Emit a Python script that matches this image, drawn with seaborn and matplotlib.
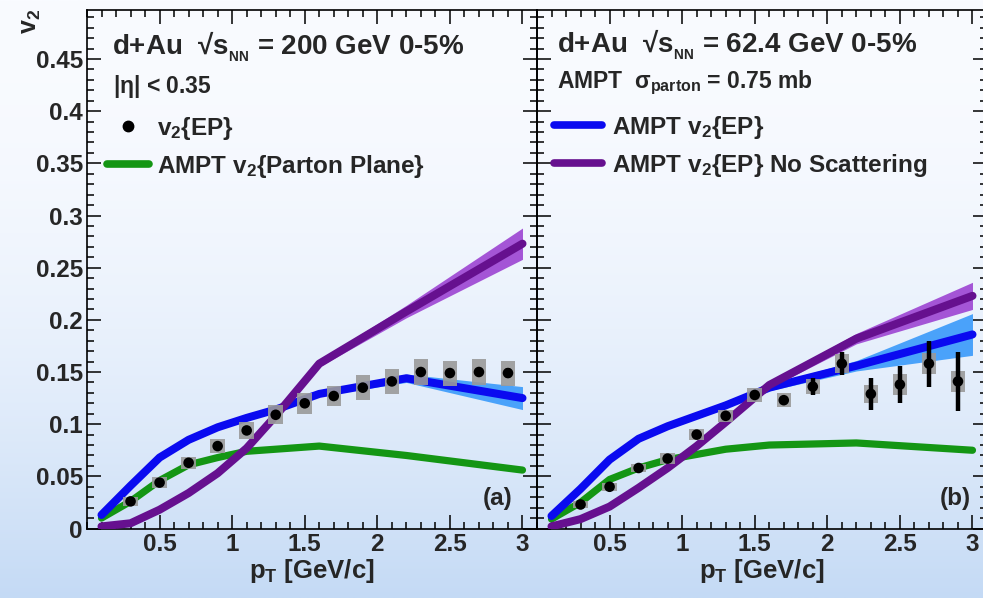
import numpy as np
import pandas as pd
import seaborn as sns
import matplotlib
matplotlib.use("Agg")
from matplotlib import pyplot as plt
from matplotlib.lines import Line2D
from matplotlib.ticker import FixedLocator, MultipleLocator, FormatStrFormatter

# measured points (STAR d+Au 0-5%)
pt_data = [0.3, 0.5, 0.7, 0.9, 1.1, 1.3, 1.5, 1.7, 1.9, 2.1, 2.3, 2.5, 2.7, 2.9]
v2_200 = [0.026, 0.044, 0.063, 0.079, 0.094, 0.109, 0.120, 0.127, 0.135, 0.141, 0.150, 0.149, 0.150, 0.149]
stat_200 = [0.001, 0.001, 0.001, 0.001, 0.001, 0.001, 0.002, 0.002, 0.002, 0.003, 0.003, 0.004, 0.004, 0.005]
sys_200 = [0.004, 0.005, 0.006, 0.007, 0.008, 0.009, 0.010, 0.010, 0.012, 0.012, 0.012, 0.012, 0.012, 0.012]
v2_62 = [0.023, 0.040, 0.058, 0.067, 0.090, 0.108, 0.128, 0.123, 0.136, 0.158, 0.129, 0.138, 0.158, 0.141]
stat_62 = [0.001, 0.001, 0.001, 0.001, 0.002, 0.002, 0.003, 0.004, 0.008, 0.011, 0.015, 0.018, 0.022, 0.028]
sys_62 = [0.003, 0.004, 0.004, 0.005, 0.005, 0.006, 0.007, 0.007, 0.007, 0.009, 0.009, 0.010, 0.010, 0.010]

# AMPT curves
pt_ampt = [0.1, 0.3, 0.5, 0.7, 0.9, 1.1, 1.3, 1.6, 2.2, 3.0]
blue_200 = [0.013, 0.041, 0.068, 0.085, 0.097, 0.106, 0.114, 0.129, 0.144, 0.125]
blue_200_err = [0.001, 0.001, 0.001, 0.001, 0.001, 0.001, 0.002, 0.002, 0.004, 0.011]
green_200 = [0.010, 0.026, 0.046, 0.061, 0.068, 0.074, 0.076, 0.079, 0.070, 0.056]
purple_200 = [0.002, 0.005, 0.018, 0.034, 0.053, 0.077, 0.108, 0.158, 0.208, 0.273]
purple_200_err = [0.001, 0.001, 0.001, 0.001, 0.002, 0.002, 0.002, 0.003, 0.006, 0.015]
blue_62 = [0.012, 0.038, 0.066, 0.086, 0.098, 0.108, 0.118, 0.135, 0.156, 0.186]
blue_62_err = [0.001, 0.001, 0.001, 0.001, 0.001, 0.001, 0.002, 0.003, 0.005, 0.020]
green_62 = [0.009, 0.025, 0.047, 0.058, 0.066, 0.071, 0.076, 0.080, 0.082, 0.075]
purple_62 = [0.002, 0.009, 0.021, 0.039, 0.058, 0.079, 0.102, 0.1375, 0.182, 0.223]
purple_62_err = [0.001, 0.001, 0.001, 0.001, 0.002, 0.002, 0.002, 0.003, 0.005, 0.013]

BLUE = "#0a0af0"
BLUE_BAND = "#4aa2fa"
PURPLE = "#66108f"
PURPLE_BAND = "#a455d6"
GREEN = "#149614"
GRAY = "#9a9a9a"

sns.set_theme(style="ticks")
plt.rcParams["font.family"] = ["Liberation Sans", "DejaVu Sans"]
plt.rcParams["font.weight"] = "bold"
plt.rcParams["mathtext.fontset"] = "custom"
plt.rcParams["mathtext.rm"] = "Liberation Sans:bold"
plt.rcParams["mathtext.it"] = "Liberation Sans:bold"
plt.rcParams["mathtext.bf"] = "Liberation Sans:bold"
plt.rcParams["mathtext.sf"] = "Liberation Sans:bold"

W, H = 983, 598
fig = plt.figure(figsize=(W / 100, H / 100), dpi=100)


def fx(px):
    return px / W


def fy(py):
    return 1 - py / H


# background gradient
bg = fig.add_axes([0, 0, 1, 1], zorder=-10)
t = np.linspace(0, 1, 300)[:, None] ** 2
top = np.array([249, 251, 255]) / 255
bot = np.array([196, 218, 245]) / 255
grad = top + (bot - top) * t[:, :, None]
bg.imshow(np.repeat(grad, 2, axis=1), aspect="auto", extent=[0, 1, 0, 1])
bg.axis("off")

y0, y1 = 528.5, 10
ax1 = fig.add_axes([fx(87), fy(y0), fx(450), (y0 - y1) / H])
ax2 = fig.add_axes([fx(537), fy(y0), fx(450), (y0 - y1) / H])


def draw_panel(ax, v2, stat, sys, blue, blue_err, green, purple, purple_err):
    df = pd.DataFrame({"pt": pt_ampt, "blue": blue, "green": green, "purple": purple})
    b, be = np.array(blue), np.array(blue_err)
    p, pe = np.array(purple), np.array(purple_err)
    ax.fill_between(pt_ampt, b - be, b + be, color=BLUE_BAND, lw=0, zorder=1)
    ax.fill_between(pt_ampt, p - pe, p + pe, color=PURPLE_BAND, lw=0, zorder=1)
    sns.lineplot(data=df, x="pt", y="green", ax=ax, color=GREEN, lw=5.2, sort=False, zorder=2)
    sns.lineplot(data=df, x="pt", y="blue", ax=ax, color=BLUE, lw=5.8, sort=False, zorder=3)
    sns.lineplot(data=df, x="pt", y="purple", ax=ax, color=PURPLE, lw=5.8, sort=False, zorder=3)
    v, s = np.array(v2), np.array(sys)
    ax.bar(pt_data, 2 * s, bottom=v - s, width=0.1, color=GRAY, alpha=0.9, lw=0, zorder=4)
    ax.errorbar(pt_data, v2, yerr=stat, fmt="none", ecolor="black", elinewidth=3.2, capsize=0, zorder=5)
    sns.scatterplot(x=pt_data, y=v2, ax=ax, color="black", s=58, edgecolor="none", zorder=6)

    ax.set_facecolor("none")
    ax.set_xlim(0, 3.1)
    ax.set_ylim(0, 0.497)
    ax.xaxis.set_major_locator(FixedLocator([0.5, 1, 1.5, 2, 2.5, 3]))
    ax.xaxis.set_major_formatter(FormatStrFormatter("%g"))
    ax.xaxis.set_minor_locator(MultipleLocator(0.1))
    ax.yaxis.set_major_locator(MultipleLocator(0.05))
    ax.yaxis.set_major_formatter(FormatStrFormatter("%g"))
    ax.yaxis.set_minor_locator(MultipleLocator(0.01))
    ax.tick_params(which="both", direction="in", top=True, right=True, color="black",
                   labelsize=17.5, width=1.1)
    ax.tick_params(which="major", length=10)
    ax.tick_params(which="minor", length=5)
    ax.tick_params(axis="x", pad=3)
    ax.tick_params(axis="y", pad=3)
    for sp in ax.spines.values():
        sp.set_color("black")
        sp.set_linewidth(1.2)
    ax.set_xlabel("p$_T$ [GeV/c]", fontsize=18.5, fontweight="bold", labelpad=1)
    ax.set_ylabel("")


draw_panel(ax1, v2_200, stat_200, sys_200, blue_200, blue_200_err, green_200, purple_200, purple_200_err)
draw_panel(ax2, v2_62, stat_62, sys_62, blue_62, blue_62_err, green_62, purple_62, purple_62_err)
ax2.tick_params(axis="y", labelleft=False)

fig.text(fx(31), fy(9), "v$_2$", rotation=90, ha="center", va="top", fontsize=18, fontweight="bold")

# panel texts
fig.text(fx(112), fy(47), r"d+Au  √$s_{_{NN}}$ = 200 GeV 0-5%", ha="left", va="center",
         fontsize=20, fontweight="bold")
fig.text(fx(113), fy(86), r"|$\eta$| < 0.35", ha="left", va="center", fontsize=16.5, fontweight="bold")
fig.text(fx(557), fy(45), r"d+Au  √$s_{_{NN}}$ = 62.4 GeV 0-5%", ha="left", va="center",
         fontsize=20, fontweight="bold")
fig.text(fx(557), fy(83), r"AMPT  $\sigma_{parton}$ = 0.75 mb", ha="left", va="center",
         fontsize=16.5, fontweight="bold")
fig.text(fx(498), fy(498), "(a)", ha="center", va="center", fontsize=17.5, fontweight="bold")
fig.text(fx(955), fy(499), "(b)", ha="center", va="center", fontsize=17.5, fontweight="bold")

# legends
h_dot = Line2D([], [], ls="none", marker="o", color="black", markersize=7.5)
h_green = Line2D([], [], color=GREEN, lw=5.5)
h_blue = Line2D([], [], color=BLUE, lw=5.5)
h_purple = Line2D([], [], color=PURPLE, lw=5.5)
leg1 = ax1.legend([h_dot, h_green], ["v$_2${EP}", "AMPT v$_2${Parton Plane}"],
                  loc="upper left", bbox_to_anchor=(fx(107), fy(115)), bbox_transform=fig.transFigure,
                  frameon=False, borderpad=0, borderaxespad=0, handlelength=1.73, handletextpad=0.33,
                  labelspacing=0.45, prop={"size": 17.5, "weight": "bold"})
leg2 = ax2.legend([h_blue, h_purple], ["AMPT v$_2${EP}", "AMPT v$_2${EP} No Scattering"],
                  loc="upper left", bbox_to_anchor=(fx(554), fy(114)), bbox_transform=fig.transFigure,
                  frameon=False, borderpad=0, borderaxespad=0, handlelength=1.98, handletextpad=0.41,
                  labelspacing=0.45, prop={"size": 17.5, "weight": "bold"})

fig.savefig("out.png", dpi=100)
